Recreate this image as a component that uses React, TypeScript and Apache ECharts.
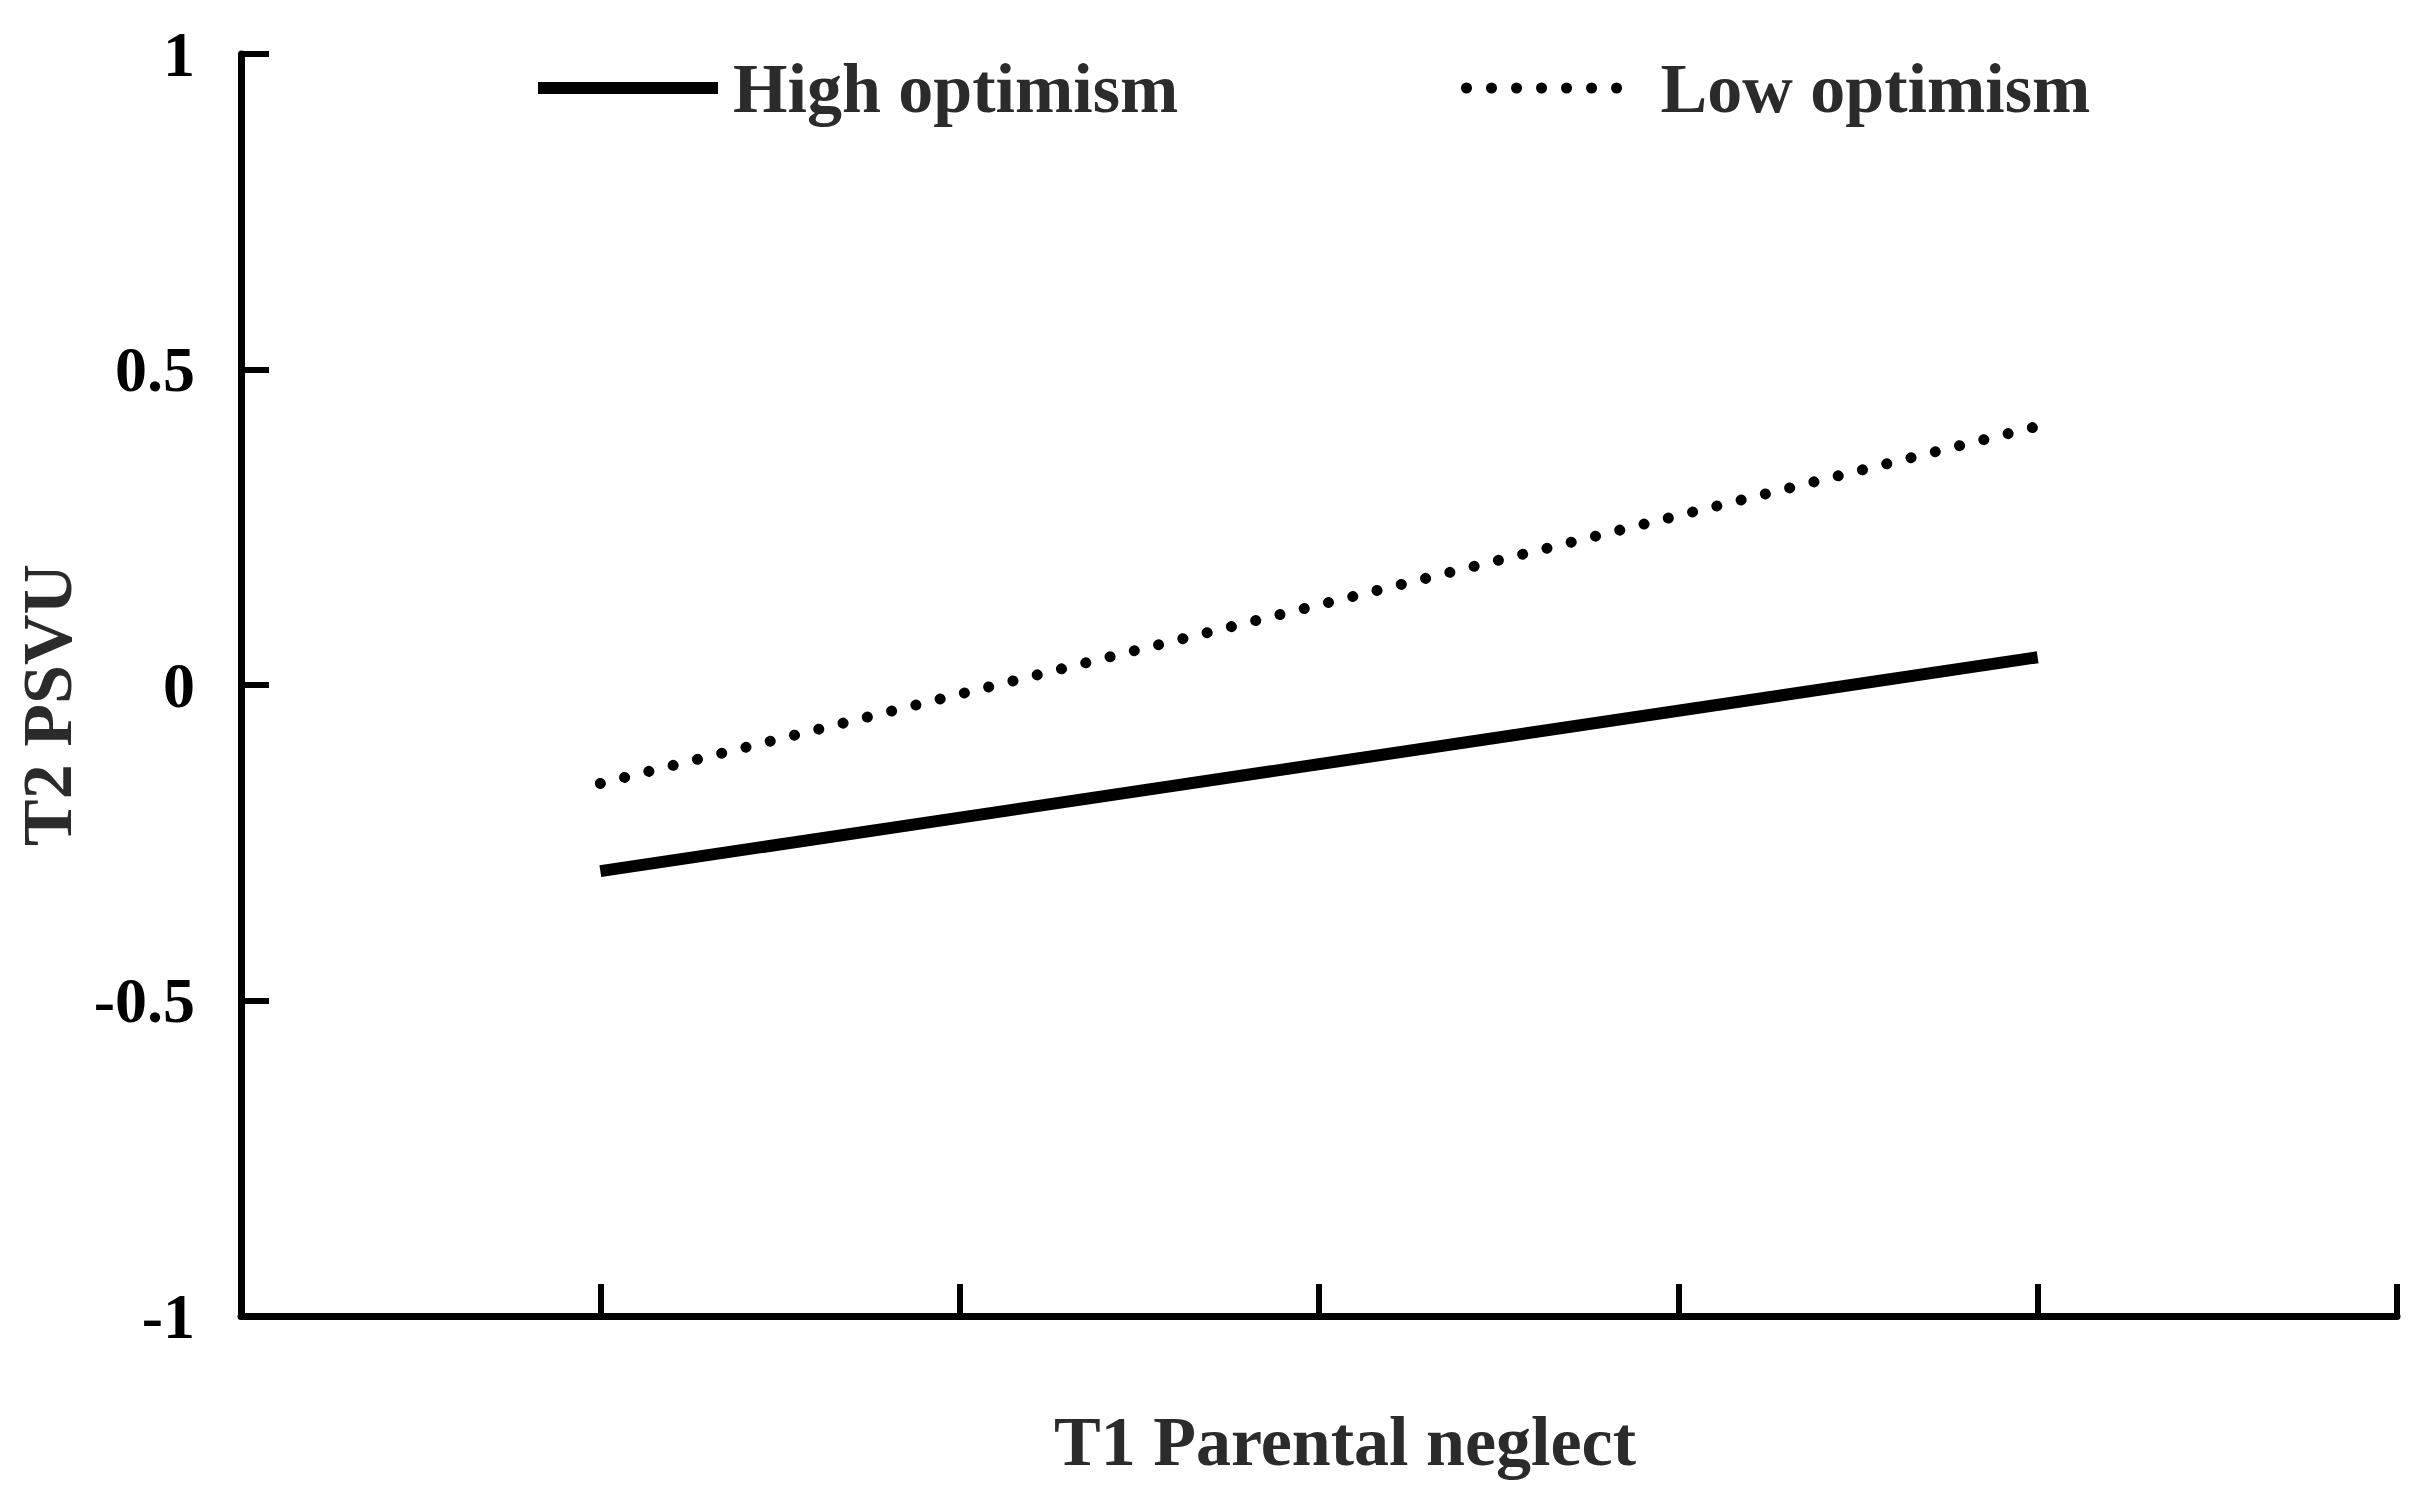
import React, { useEffect, useRef } from "react";
import * as echarts from "echarts";

const seriesNames = ["High optimism", "Low optimism"];
const xPoints = [1, 5];
const highValues = [-0.295, 0.044];
const lowValues = [-0.156, 0.41];
const yTicks = [-1, -0.5, 0, 0.5, 1];

const FONT = "'Liberation Serif', 'DejaVu Serif', serif";

export default function App() {
  const ref = useRef<HTMLDivElement>(null);
  useEffect(() => {
    if (!ref.current) return;
    const chart = echarts.init(ref.current, undefined, { renderer: "svg" });
    const dotted = [0.01, 25];
    chart.setOption({
      animation: false,
      backgroundColor: "#ffffff",
      grid: { left: 241, right: 19, top: 54, bottom: 188, outerBoundsMode: "none", containLabel: false },
      legend: [
        {
          data: [seriesNames[0]],
          left: 527,
          top: 43,
          itemWidth: 180,
          itemHeight: 20,
          itemGap: 0,
          itemStyle: { opacity: 0 },
          lineStyle: { width: 12, cap: "butt" },
          textStyle: {
            fontFamily: FONT,
            fontSize: 70,
            fontWeight: "bold",
            color: "#2b2b2b",
            lineHeight: 80,
            padding: [0, 0, 0, 10],
          },
        },
        {
          data: [seriesNames[1]],
          left: 1456,
          top: 43,
          itemWidth: 157,
          itemHeight: 20,
          itemGap: 0,
          itemStyle: { opacity: 0 },
          lineStyle: { width: 11, type: dotted, cap: "round" },
          textStyle: {
            fontFamily: FONT,
            fontSize: 70,
            fontWeight: "bold",
            color: "#2b2b2b",
            lineHeight: 80,
            padding: [0, 0, 0, 32],
          },
        },
      ],
      xAxis: {
        type: "value",
        min: 0,
        max: 6,
        interval: 1,
        name: "T1 Parental neglect",
        nameLocation: "middle",
        nameGap: 90,
        nameTextStyle: {
          fontFamily: FONT,
          fontSize: 70,
          fontWeight: "bold",
          color: "#2b2b2b",
          padding: [0, 0, 0, 52],
        },
        axisLine: { show: true, onZero: false, lineStyle: { color: "#000", width: 7 } },
        axisTick: { show: true, inside: true, length: 32, lineStyle: { color: "#000", width: 6 } },
        axisLabel: { show: false },
        splitLine: { show: false },
      },
      yAxis: {
        type: "value",
        min: yTicks[0],
        max: yTicks[yTicks.length - 1],
        interval: 0.5,
        name: "T2 PSVU",
        nameLocation: "middle",
        nameRotate: 90,
        nameGap: 150,
        nameTextStyle: {
          fontFamily: FONT,
          fontSize: 70,
          fontWeight: "bold",
          color: "#2b2b2b",
          padding: [0, 40, 0, 0],
        },
        axisLine: { show: true, lineStyle: { color: "#000", width: 7 } },
        axisTick: { show: true, inside: true, length: 28, lineStyle: { color: "#000", width: 6 } },
        axisLabel: {
          margin: 46,
          fontFamily: FONT,
          fontSize: 64,
          fontWeight: "bold",
          color: "#000",
        },
        splitLine: { show: false },
      },
      series: [
        {
          name: seriesNames[0],
          type: "line",
          symbol: "none",
          data: xPoints.map((x, i) => [x, highValues[i]]),
          lineStyle: { color: "#000", width: 12, cap: "butt" },
          itemStyle: { color: "#000" },
        },
        {
          name: seriesNames[1],
          type: "line",
          symbol: "none",
          data: xPoints.map((x, i) => [x, lowValues[i]]),
          lineStyle: { color: "#000", width: 11, type: dotted, cap: "round" },
          itemStyle: { color: "#000" },
        },
      ],
    });
    return () => chart.dispose();
  }, []);
  return (
    <div
      ref={ref}
      style={{ position: "absolute", left: 0, top: 0, width: 2416, height: 1504 }}
    />
  );
}
